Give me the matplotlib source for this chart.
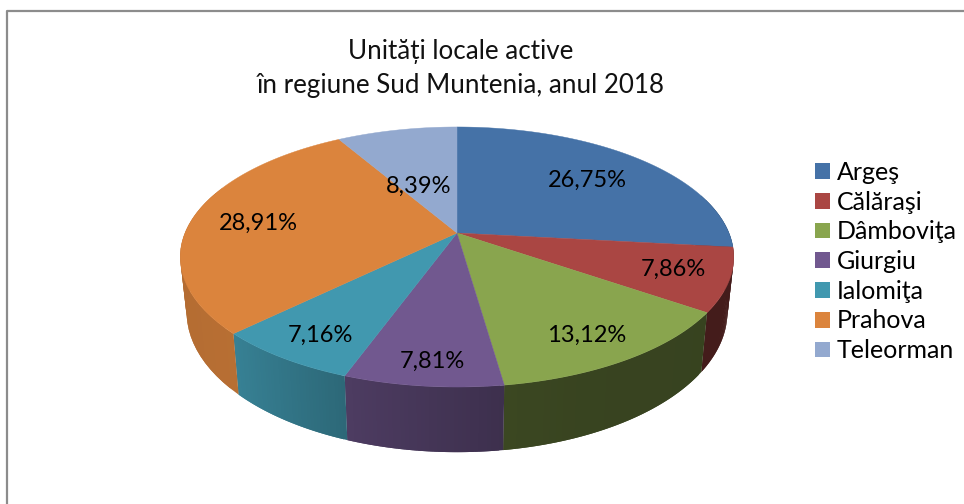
import numpy as np
import matplotlib.pyplot as plt
from matplotlib.colors import to_rgb
from matplotlib.patches import Patch, Polygon

title_lines = "Unități locale active\nîn regiune Sud Muntenia, anul 2018"
judete = ["Argeş", "Călăraşi", "Dâmboviţa", "Giurgiu", "Ialomiţa", "Prahova", "Teleorman"]
procente = [26.75, 7.86, 13.12, 7.81, 7.16, 28.91, 8.39]
culori = ["#4572A7", "#AA4643", "#89A54E", "#71588F", "#4198AF", "#DB843D", "#93A9CF"]

# where the labels sit, in pixels
label_xy = [(587, 180), (673, 269), (587, 335), (432, 361), (320, 335), (258, 223), (419, 186)]

# the pie is a perspective view of a disc
cx, cy = 457, 233
A, B, k = 272, 125.6, 0.1846
depth = 53.1
shrink = 0.977


def top_pt(theta):
    u, v = np.sin(theta), np.cos(theta)
    w = 1 + k * v
    return cx + A * u / w, cy - B * v / w


def bottom_pt(theta):
    u, v = np.sin(theta), np.cos(theta)
    w = 1 + k * v
    return cx + shrink * A * u / w, cy - B * v / w + depth / w


def shade(theta):
    # darker towards the right, with the drop at the purple/green edge
    return np.interp(np.sin(theta), [-1, -0.7, -0.33, 0.14, 0.15, 0.4, 1], [0.82, 0.84, 0.68, 0.54, 0.43, 0.41, 0.4])


plt.rcParams['font.family'] = ['Lato', 'DejaVu Sans']

fig = plt.figure(figsize=(9.64, 5.04), dpi=100)
ax = fig.add_axes([0, 0, 1, 1])
ax.set_xlim(0, 964)
ax.set_ylim(504, 0)
ax.axis('off')

# chart border
ax.plot([6.5, 6.5, 964], [504, 10.5, 10.5], color="#8c8c8c", lw=1.6)

edges = np.cumsum([0] + procente) / np.sum(procente) * 2 * np.pi

# side wall first, the top goes over it
# each strip runs on under the next one so no white shows between them
for i, col in enumerate(culori):
    rgb = np.array(to_rgb(col))
    ts = np.linspace(edges[i], edges[i + 1], 40)
    for j in range(len(ts) - 1):
        t0, t1 = ts[j], ts[j + 1]
        if np.cos(t0) > 0.3 and np.cos(t1) > 0.3:
            continue
        t2 = ts[min(j + 2, len(ts) - 1)]
        quad = [top_pt(t0), top_pt(t1), top_pt(t2), bottom_pt(t2), bottom_pt(t1), bottom_pt(t0)]
        ax.add_patch(Polygon(quad, closed=True, fc=rgb * shade((t0 + t1) / 2), ec='none'))

for i, col in enumerate(culori):
    ts = np.linspace(edges[i], edges[i + 1], 120)
    xs, ys = top_pt(ts)
    pts = np.column_stack([np.r_[cx, xs], np.r_[cy, ys]])
    ax.add_patch(Polygon(pts, closed=True, fc=col, ec=col, lw=0.3))

for val, (x, y) in zip(procente, label_xy):
    ax.text(x, y, f"{val:.2f}%".replace(".", ","), ha='center', va='center', fontsize=17, color="black")

ax.text(461, 68.5, title_lines, ha='center', va='center', fontsize=18.7, color="#111111", linespacing=1.48)

handles = [Patch(fc=c, ec='none') for c in culori]
ax.legend(handles, judete, loc='center left', bbox_to_anchor=(815, 261.5), bbox_transform=ax.transData,
          frameon=False, fontsize=18, handlelength=0.6, handleheight=0.6, handletextpad=0.28,
          labelspacing=0.27, borderpad=0, borderaxespad=0, labelcolor="black")

fig.savefig("out.png", dpi=100)
